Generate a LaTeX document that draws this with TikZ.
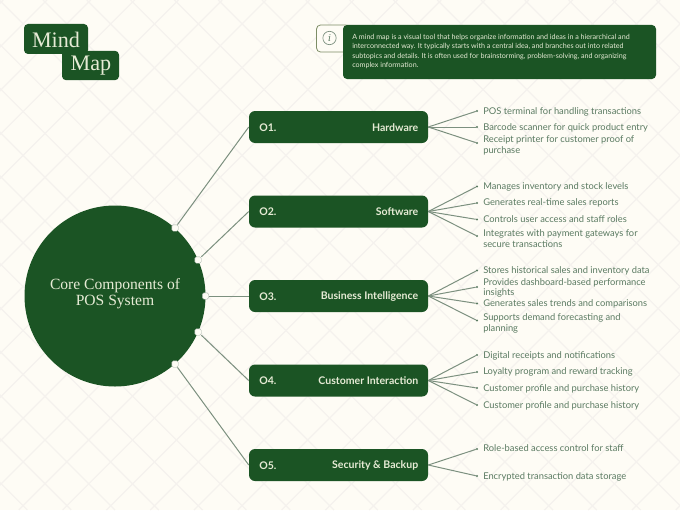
\documentclass[tikz,border=0pt]{standalone}
\usepackage{fontspec}
\setmainfont{Lato}
\newfontfamily\slabfont{DejaVu Serif}
\newfontfamily\titlefont{Liberation Serif}
\definecolor{bgc}{HTML}{FEFCF5}
\definecolor{gridc}{HTML}{F5F2EE}
\definecolor{dark}{HTML}{1B5424}
\definecolor{lite}{HTML}{E6EBD5}
\definecolor{leafc}{HTML}{5A7A61}
\definecolor{linec}{HTML}{7C907F}
\tikzset{
  x=0.75pt,y=-0.75pt,
  bar/.style={draw=none,fill=dark,rounded corners=4.5pt,minimum width=134.25pt,minimum height=24pt,inner sep=0pt},
  num/.style={text=lite,font=\fontsize{7.9}{8}\selectfont\bfseries,anchor=west,inner sep=0pt},
  ttl/.style={text=lite,font=\fontsize{7.9}{8}\selectfont\bfseries,anchor=east,inner sep=0pt},
  leaf/.style={text=leafc,font=\fontsize{7}{7.9}\selectfont,anchor=west,inner sep=0pt,align=left},
  hub/.style={draw=linec!70,line width=0.3pt,fill=bgc,rounded corners=1.2pt,minimum size=4.8pt,inner sep=0pt},
  conn/.style={draw=linec,line width=0.75pt},
  tip/.style={circle,fill=leafc,minimum size=1.6pt,inner sep=0pt},
  logo/.style={fill=dark,rounded corners=3pt,inner sep=0pt},
  logotext/.style={text=lite,font=\titlefont\fontsize{16.6}{18}\selectfont,inner sep=0pt},
}
\begin{document}
\begin{tikzpicture}
\useasboundingbox (0,0) rectangle (680,510);
\fill[bgc] (0,0) rectangle (680,510);
\begin{scope}
\clip (0,0) rectangle (680,510);
\foreach \k in {-15,...,30}{
  \draw[gridc,line width=0.9pt] ({\k*43.8+47},0) -- ({\k*43.8+47-510},510);
  \draw[gridc,line width=0.9pt] ({\k*43.8+43},0) -- ({\k*43.8+43+510},510);
}
\end{scope}
% logo
\node[logo,minimum width=48pt,minimum height=22.5pt] (mindbox) at (56,39) {};
\node[logo,minimum width=42.75pt,minimum height=22pt] (mapbox) at (90.5,65.5) {};
\node[logotext] (mindt) at (56,40) {Mind};
\node[logotext] (mapt) at (91,66) {Map};
% info
\draw[draw=linec!80!olive,fill=bgc,rounded corners=3pt,line width=0.6pt] (316.5,25) rectangle (350,52);
\node[draw=linec,circle,minimum size=10pt,inner sep=0pt,line width=0.5pt,text=leafc,font=\slabfont\itshape\fontsize{7}{8}\selectfont] (info) at (329.5,38) {i};
\node[fill=dark,rounded corners=3pt,minimum width=234.75pt,minimum height=40.5pt,inner sep=0pt] (infobox) at (499.5,52) {};
\node[text=lite,font=\fontsize{5.35}{7.05}\selectfont,anchor=north west,inner sep=0pt,align=left] (infot) at (352,34) {A mind map is a visual tool that helps organize information and ideas in a hierarchical and\\interconnected way. It typically starts with a central idea, and branches out into related\\subtopics and details. It is often used for brainstorming, problem-solving, and organizing\\complex information.};
% centre
\node[circle,fill=dark,minimum size=135.75pt,inner sep=0pt] (core) at (115,296) {};
\node[text=lite,font=\titlefont\fontsize{11.7}{12}\selectfont,align=center,inner sep=0pt] (coret) at (115,293.5) {Core Components of\\POS System};
% bars
\foreach \n/\y/\a/\b in {1/127/O1./Hardware,2/211.5/O2./Software,3/296/O3./Business Intelligence,4/380.5/O4./Customer Interaction,5/465/O5./Security \& Backup}{
  \node[bar] (b\n) at (338.5,\y) {};
  \node[num] (bn\n) at (259,\y+0.5) {\a};
  \node[ttl] (bt\n) at (418.5,\y+0.5) {\b};
}
% hubs
\node[hub] (h1) at (175,228) {};
\node[hub] (h2) at (198,260) {};
\node[hub] (h3) at (205.5,296) {};
\node[hub] (h4) at (198,332) {};
\node[hub] (h5) at (175,364) {};
\foreach \n in {1,...,5}{\draw[conn] (h\n) -- (b\n.west);}
% leaves
\foreach \m/\y/\ty/\t [count=\c] in {
 1/111/111.5/{POS terminal for handling transactions},
 1/127/127.5/{Barcode scanner for quick product entry},
 1/143/145.5/{Receipt printer for customer proof of\\purchase},
 2/186.5/186.5/{Manages inventory and stock levels},
 2/203/203/{Generates real-time sales reports},
 2/219.5/219.5/{Controls user access and staff roles},
 2/236/238.5/{Integrates with payment gateways for\\secure transactions},
 3/270.5/271/{Stores historical sales and inventory data},
 3/287/288/{Provides dashboard-based performance\\insights},
 3/303.5/304/{Generates sales trends and comparisons},
 3/320.5/323.5/{Supports demand forecasting and\\planning},
 4/355/355.5/{Digital receipts and notifications},
 4/372/372/{Loyalty program and reward tracking},
 4/388/388.5/{Customer profile and purchase history},
 4/405/405.5/{Customer profile and purchase history},
 5/449/448.5/{Role-based access control for staff},
 5/476/476.5/{Encrypted transaction data storage}}{
  \node[leaf] (l\c) at (483,\ty) {\t};
  \node[tip] (t\c) at (477,\y) {};
  \draw[conn] (b\m.east) -- (t\c);
}
\end{tikzpicture}
\end{document}
